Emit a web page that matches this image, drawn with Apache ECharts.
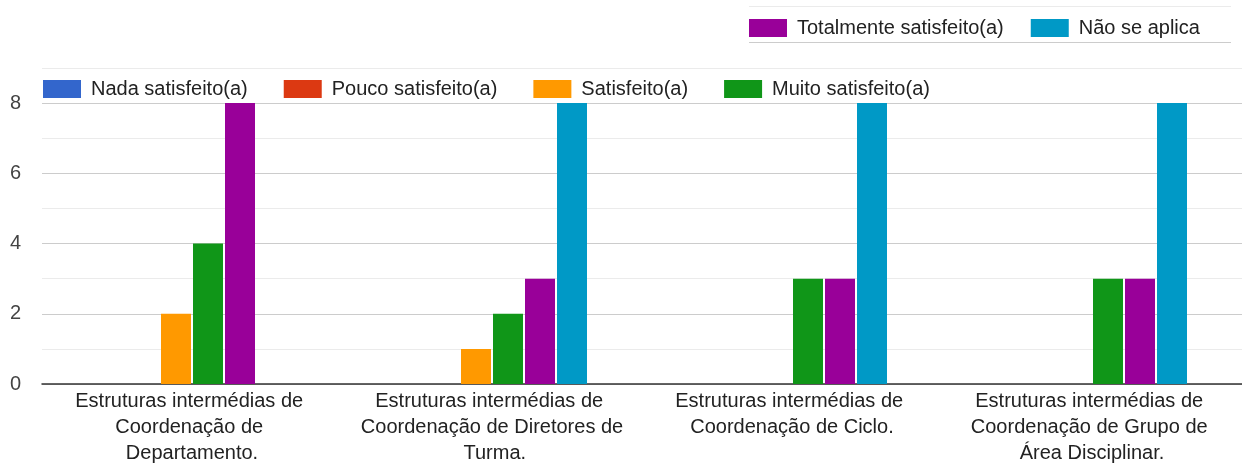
<!DOCTYPE html>
<html>
<head>
<meta charset="utf-8">
<script src="https://cdn.jsdelivr.net/npm/echarts@6/dist/echarts.min.js"></script>
<style>
html,body{margin:0;padding:0;background:#fff;}
#c{width:1242px;height:466px;}
</style>
</head>
<body>
<div id="c"></div>
<script>
const categories = [
  "Estruturas intermédias de Coordenação de Departamento.",
  "Estruturas intermédias de Coordenação de Diretores de Turma.",
  "Estruturas intermédias de Coordenação de Ciclo.",
  "Estruturas intermédias de Coordenação de Grupo de Área Disciplinar."
];
const seriesNames = ["Nada satisfeito(a)", "Pouco satisfeito(a)", "Satisfeito(a)", "Muito satisfeito(a)", "Totalmente satisfeito(a)", "Não se aplica"];
const nada = [0, 0, 0, 0];
const pouco = [0, 0, 0, 0];
const satisfeito = [2, 1, 0, 0];
const muito = [4, 2, 3, 3];
const totalmente = [8, 3, 3, 3];
const naoSeAplica = [0, 8, 8, 8];
const seriesValues = [nada, pouco, satisfeito, muito, totalmente, naoSeAplica];
const colors = ["#3366cc", "#dc3912", "#ff9900", "#109618", "#990099", "#0099c6"];
const yTickLabels = [0, 2, 4, 6, 8];

const chart = echarts.init(document.getElementById('c'));
const legendText = {fontFamily: 'Liberation Sans, Arial', fontSize: 20, color: '#222', padding: [0, 0, 0, 5]};
chart.setOption({
  animation: false,
  color: colors,
  textStyle: {fontFamily: 'Liberation Sans, Arial'},
  legend: [
    {
      data: seriesNames.slice(4),
      left: 749, top: 18, padding: 0,
      itemWidth: 38, itemHeight: 18, itemGap: 27,
      icon: 'rect',
      textStyle: legendText
    },
    {
      data: seriesNames.slice(0, 4),
      left: 43, top: 79, padding: 0,
      itemWidth: 38, itemHeight: 18, itemGap: 36,
      icon: 'rect',
      textStyle: legendText
    }
  ],
  graphic: [
    {type: 'line', shape: {x1: 749, y1: 6.5, x2: 1231, y2: 6.5}, style: {stroke: '#ebebeb', lineWidth: 1}},
    {type: 'line', shape: {x1: 749, y1: 42.5, x2: 1231, y2: 42.5}, style: {stroke: '#cccccc', lineWidth: 1}}
  ],
  grid: {left: 42, right: -7, top: 68, bottom: 81, containLabel: false},
  xAxis: {
    type: 'category',
    data: categories,
    axisLine: {lineStyle: {color: '#333', width: 1.5}},
    axisTick: {show: false},
    axisLabel: {
      interval: 0, margin: 4,
      fontSize: 20, lineHeight: 26, color: '#222',
      width: 282, overflow: 'break'
    }
  },
  yAxis: {
    type: 'value', min: 0, max: 9, interval: 1,
    axisLine: {show: false}, axisTick: {show: false},
    axisLabel: {
      fontSize: 20, color: '#444', margin: 21,
      formatter: v => (yTickLabels.indexOf(v) >= 0 ? String(v) : '')
    },
    splitLine: {lineStyle: {color: ['#cccccc', '#ebebeb'], width: 1}}
  },
  series: seriesNames.map((n, i) => ({
    name: n, type: 'bar', data: seriesValues[i],
    barWidth: 30, barGap: '6.67%'
  }))
});
</script>
</body>
</html>
